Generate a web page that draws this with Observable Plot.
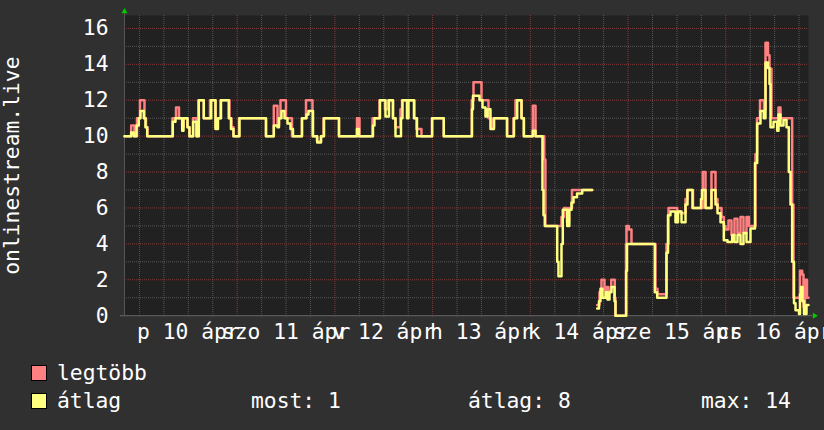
<!DOCTYPE html>
<html>
<head>
<meta charset="utf-8">
<script src="https://cdn.jsdelivr.net/npm/d3@7"></script>
<script src="https://cdn.jsdelivr.net/npm/@observablehq/plot@0.6"></script>
<style>
  html, body { margin: 0; padding: 0; background: #303030; }
  #wrap { position: relative; width: 824px; height: 430px; overflow: hidden; background: #303030;
          font-family: "DejaVu Sans Mono", monospace; font-size: 21.33px; color: #fff; }
  #chart svg { display: block; }
  .lg { position: absolute; line-height: 21.33px; white-space: pre; }
  .sw { position: absolute; width: 14px; height: 14px; border: 1px solid #000; }
</style>
</head>
<body>
<div id="wrap">
  <div id="chart"></div>
  <div class="sw" style="left:31px; top:365px; background:#ff8080"></div>
  <div class="lg" style="left:57px; top:362px">legtöbb</div>
  <div class="sw" style="left:31px; top:393px; background:#ffff80"></div>
  <div class="lg" style="left:57px; top:390px">átlag</div>
  <div class="lg" style="left:251px; top:390px">most: 1</div>
  <div class="lg" style="left:468px; top:390px">átlag: 8</div>
  <div class="lg" style="left:701px; top:390px">max: 14</div>
</div>
<script>
// Time axis: hours since Fri 10 April 00:00; the week window runs from -3.68 h to 164.32 h.
const windowStart = -3.68;
const windowEnd = 164.32;

// Day labels, centred at noon of each day
const dayLabels = ["p 10 ápr", "szo 11 ápr", "v 12 ápr", "h 13 ápr", "k 14 ápr", "sze 15 ápr", "cs 16 ápr"];
const noonHours = [12, 36, 60, 84, 108, 132, 156];

// Y tick labels
const yTicks = [0, 2, 4, 6, 8, 10, 12, 14, 16];

// Average listeners (átlag): change points (hour, value), step-after; null = no data
const avgHours = [
  -3.68, -2.04, -1.40, -0.74, -0.17, 0.25, 1.06, 1.47, 1.89, 8.18, 8.84, 10.49, 10.81, 11.79, 12.28,
  13.19, 14.0, 14.57, 15.79, 17.61, 18.67, 19.28, 20.02, 21.93, 22.47, 23.09, 24.56, 31.07, 32.99,
  33.90, 34.26, 34.88, 35.61, 36.35, 37.09, 37.70, 39.91, 41.02, 41.51, 42.62, 43.65, 44.58, 45.32,
  49.0, 53.42, 53.91, 57.35, 57.72, 59.07, 60.42, 61.28, 62.26, 62.88, 64.23, 64.6, 65.70, 66.07,
  67.42, 68.16, 71.89, 74.74, 81.67, 81.91, 83.51, 84.25, 84.98, 85.48, 86.21, 87.07, 90.27, 91.98,
  92.77, 93.83, 94.39, 96.60, 97.27, 98.98, 99.23, 99.55, 102.60, 102.91, 103.65, 103.97, 105.05,
  105.57, 106.11, 106.60, 107.46, 108.74, 111.19, 111.5,
  112.42, 112.86, 113.23, 113.72, 114.46, 114.95, 115.44, 115.93, 116.67, 116.91, 119.54, 119.74,
  126.57, 127.16, 129.44, 129.81, 130.42, 131.65, 132.27, 133.13, 134.11, 134.60, 135.83, 137.92,
  138.16, 139.02, 140.49, 141.48, 141.97, 142.71, 143.52, 144.42, 145.58, 146.14, 146.88, 147.62,
  148.35, 149.09, 150.07, 151.18, 151.72, 152.53, 153.34, 153.76, 154.37, 154.74, 154.99, 155.72,
  156.63, 156.95, 157.44, 158.18, 158.92, 159.48, 159.90, 160.31, 160.76, 161.13, 161.99, 162.23,
  162.48, 162.85, 163.21, 163.83, 164.32
];
const avgValues = [
  10, 10.2, 10, 10.6, 11, 11.4, 11, 10.5, 10, 10.8, 11, 10.3, 11, 10.5, 10,
  10.8, 10, 12, 11, 12, 10.4, 11, 12, 11, 10.4, 10, 11, 10, 10.6,
  10.5, 11, 11.4, 11, 10.7, 10.4, 10, 11, 11.2, 11.4, 10, 9.65, 10, 11,
  10, 10.4, 10, 10.6, 11, 12, 11.1, 12, 11, 10, 11, 12, 11, 12,
  11, 10, 11, 10, 11.5, 12.25, 12, 11.6, 11.1, 11.5, 10.4, 11, 10, 11,
  12, 11, 10, 10.3, 10, 7, 5.6, 5, 3, 2.2, 4, 5.9, 5,
  5.9, 6.3, 6.6, 6.8, 7, 7, null,
  0.4, 0.8, 1.5, 1.0, 1.3, 0.9, 1.3, 1.6, 0.8, 0, 2.5, 4,
  1.3, 1.0, 3.5, 5.6, 5.8, 5.2, 5.8, 5.2, 6.2, 7, 6, 6.5,
  7, 6, 7, 6.2, 5.7, 5.2, 4.2, 4.1, 4.5, 4.1, 4.5, 4.0,
  4.6, 4.1, 4.85, 8.5, 10.7, 11.4, 11, 14.1, 13.8, 12.9, 10.5, 10.8,
  10.3, 11.2, 10.6, 10.9, 10.5, 8, 6.2, 3, 0.7, 0.3, 0.1, 1.2,
  1.6, 0.8, 0.1, 0.6, 0.6
];

// Peak listeners (legtöbb): change points (hour, value), step-after; null = no data
const maxHours = [
  -3.68, -2.04, -1.23, -0.61, 0.12, 1.23, 1.60, 1.96, 8.11, 8.97, 9.70, 10.49, 10.81, 11.79, 12.28,
  13.14, 14.0, 14.49, 15.79, 17.32, 18.67, 19.16, 19.90, 22.11, 22.60, 23.09, 24.44, 31.07, 32.99,
  33.90, 34.26, 34.63, 35.98, 37.46, 39.91, 40.90, 42.49, 43.60, 44.58, 45.19, 49.0, 53.42, 54.04,
  57.23, 58.95, 60.30, 61.04, 62.26, 62.88, 64.11, 64.48, 67.54, 68.03, 69.26, 71.84, 74.74, 81.62,
  82.04, 84.0, 85.72, 86.46, 87.07, 90.31, 91.86, 92.35, 93.83, 94.44, 96.60, 97.27, 99.41, 99.70,
  103.65, 104.27, 105.0, 105.50, 106.23, 111.19, 111.5,
  112.42, 112.98, 113.47, 114.21, 114.70, 115.19, 115.87, 116.73, 116.91, 119.49, 119.61, 120.18,
  120.84, 126.74, 127.23, 129.44, 129.93, 132.07, 132.88, 134.11, 134.53, 135.95, 138.36, 139.02,
  140.49, 141.48, 141.97, 142.95, 143.52, 143.93, 144.67, 145.40, 146.14, 146.88, 147.62, 148.35,
  149.09, 149.70, 151.30, 151.67, 152.41, 153.39, 153.76, 154.37, 154.74, 155.23, 156.95, 157.44,
  160.31, 160.63, 162.23, 162.77, 163.09, 163.46, 163.95, 164.32
];
const maxValues = [
  10, 10.6, 10, 11, 12, 11, 10.5, 10, 11, 11.6, 11, 10.5, 11, 10.5, 10,
  11, 10, 12, 11, 12, 10.5, 11, 12, 11, 10.5, 10, 11, 10, 11.7,
  10.6, 11, 12, 11, 10, 11, 12, 10, 9.7, 10, 11, 10, 11, 10,
  11, 12, 11.5, 12, 11, 10.5, 11.5, 12, 11, 10.4, 10, 11, 10, 12,
  13, 12, 11, 10.5, 11, 10, 11, 12, 11, 10, 11.7, 10, 8.7, 5,
  5.5, 6, 5.2, 6, 7, 7, null,
  0.6, 1.3, 2, 1.4, 1.6, 1.4, 2, 1, 0, 4, 5, 4.8,
  4, 1.5, 1.2, 4, 6, 5.8, 5.7, 6.5, 7, 6, 8, 6,
  8, 6.5, 6, 5.5, 5, 4.8, 5.3, 4.5, 5.4, 4.6, 5.5, 4.6,
  5.5, 5, 9, 11, 12, 11.5, 15.2, 14.5, 13.75, 11, 11.6, 11,
  6.2, 1, 2.5, 2.3, 0.5, 2, 1, 1
];

// Grid positions
const yMinor = d3.range(1, 17, 2);
const yMajor = d3.range(2, 17, 2);
const xMajor = d3.range(0, windowEnd, 24);
const xMinor = d3.range(6, windowEnd, 6).filter(h => h % 24 !== 0);

const avgIdx = d3.range(avgHours.length);
const maxIdx = d3.range(maxHours.length);

const chart = Plot.plot({
  width: 824,
  height: 345,
  marginLeft: 124,
  marginRight: 16,
  marginTop: 15,
  marginBottom: 29.8,
  x: {domain: [windowStart, windowEnd], label: null},
  y: {domain: [0, 16.72], label: null},
  style: {
    background: "#303030",
    color: "#ffffff",
    fontFamily: "'DejaVu Sans Mono', monospace",
    fontSize: "21.33px"
  },
  marks: [
    Plot.frame({fill: "#212121", stroke: null}),
    // minor grid
    Plot.ruleY(yMinor, {stroke: "#585858", strokeDasharray: "1,1"}),
    Plot.ruleX(xMinor, {stroke: "#585858", strokeDasharray: "1,1", insetBottom: -2}),
    // major grid
    Plot.ruleY(yMajor, {stroke: "#833a3a", strokeDasharray: "1,1"}),
    Plot.ruleX(xMajor, {stroke: "#833a3a", strokeDasharray: "1,1", insetBottom: -2}),
    // axis lines with arrow heads
    Plot.ruleY([0], {stroke: "#666666", insetLeft: -4, insetRight: -4}),
    Plot.ruleX([windowStart], {stroke: "#555555", insetTop: -3}),
    Plot.dot([0], {x: () => windowStart, y: () => 16.72, symbol: "triangle", r: 2.2, fill: "#00cc00", stroke: null, dy: -4}),
    Plot.dot([0], {x: () => windowEnd, y: () => 0, symbol: "triangle", r: 2.2, fill: "#00cc00", stroke: null, dx: 6, rotate: 90}),
    // series: peak first, average on top
    Plot.line(maxIdx, {x: i => maxHours[i], y: i => maxValues[i], curve: "step-after", stroke: "#ff8080", strokeWidth: 2.5}),
    Plot.line(avgIdx, {x: i => avgHours[i], y: i => avgValues[i], curve: "step-after", stroke: "#ffff80", strokeWidth: 2.5}),
    // axes
    Plot.axisY(yTicks, {tickSize: 0, tickPadding: 16, label: null}),
    Plot.axisX(noonHours, {tickSize: 0, tickPadding: 8, label: null,
      tickFormat: d => dayLabels[noonHours.indexOf(d)]}),
    Plot.text(["onlinestream.live"], {frameAnchor: "left", dx: -112, rotate: -90,
      textAnchor: "middle", lineAnchor: "middle", fill: "#ffffff"})
  ]
});
document.getElementById("chart").appendChild(chart);
</script>
</body>
</html>
